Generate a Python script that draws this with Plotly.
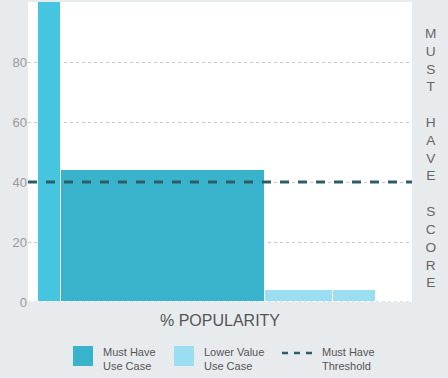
import plotly.graph_objects as go

# ---- data ----
use_cases = ["Use Case A", "Use Case B", "Use Case C", "Use Case D"]
popularity = [6.7, 60.4, 20.1, 12.8]          # % popularity (bar widths)
must_have_score = [100, 44, 4, 4]             # bar heights
category = ["highlight", "Must Have Use Case", "Lower Value Use Case", "Lower Value Use Case"]
threshold = 40
y_ticks = [0, 20, 40, 60, 80]

COL = {"highlight": "#45C5DF", "Must Have Use Case": "#38B3CB", "Lower Value Use Case": "#9BDEF1"}
LINE_COL = "#2C5E66"
FONT = "Liberation Sans"
BG = "#E7EBEE"

# ---- layout geometry (px) ----
W, H = 448, 378
ML, MR, MT, MB = 28, 36, 2, 76
PW, PH = W - ML - MR, H - MT - MB

def px2x(px):
    return (px - ML) / PW

def py2y(py):
    return (H - MB - py) / PH

# bar centres from cumulative widths
lefts = []
acc = 0
for w in popularity:
    lefts.append(acc)
    acc += w
centers = [l + w / 2 for l, w in zip(lefts, popularity)]

fig = go.Figure()
fig.add_trace(go.Bar(
    x=centers, y=must_have_score, width=popularity,
    marker=dict(color=[COL[c] for c in category], line=dict(color="white", width=1)),
    hovertext=use_cases, showlegend=False,
))

fig.add_shape(type="line", xref="paper", x0=0, x1=1, yref="y", y0=threshold, y1=threshold,
              line=dict(color=LINE_COL, width=3, dash="9px,9px"), layer="above")

fig.update_layout(
    width=W, height=H,
    margin=dict(l=ML, r=MR, t=MT, b=MB),
    paper_bgcolor=BG, plot_bgcolor="white",
    bargap=0, showlegend=False,
    font=dict(family=FONT, color="#555"),
    xaxis=dict(range=[-2.96, 110.65], showticklabels=False, showgrid=False,
               zeroline=False, showline=False, fixedrange=True),
    yaxis=dict(range=[0, 100], tickvals=y_ticks, showgrid=True, gridcolor="#C8C8C8",
               griddash="3px,3px", gridwidth=1, zeroline=False, showline=False,
               tickfont=dict(size=13, color="#9A9A9A", family=FONT), ticklabelstandoff=0),
)

# baseline dashed
fig.add_shape(type="line", xref="paper", x0=0, x1=1, yref="y", y0=0, y1=0,
              line=dict(color="#C8C8C8", width=1, dash="3px,3px"), layer="above")

# x-axis title
fig.add_annotation(text="% POPULARITY", xref="paper", yref="paper", x=0.5, y=py2y(320),
                   xanchor="center", yanchor="middle",
                   showarrow=False, font=dict(size=16, color="#555", family=FONT))

# right vertical title
fig.add_annotation(text="M<br>U<br>S<br>T<br> <br>H<br>A<br>V<br>E<br> <br>S<br>C<br>O<br>R<br>E",
                   xref="paper", yref="paper", x=px2x(430), y=py2y(158), showarrow=False,
                   xanchor="center", yanchor="middle",
                   font=dict(size=13.7, color="#666", family=FONT), align="center")

# legend (custom)
legend_items = [
    ("box", COL["Must Have Use Case"], "Must Have<br>Use Case", 73),
    ("box", COL["Lower Value Use Case"], "Lower Value<br>Use Case", 174),
    ("dash", LINE_COL, "Must Have<br>Threshold", 282),
]
for kind, col, label, x0 in legend_items:
    if kind == "box":
        fig.add_shape(type="rect", xref="paper", yref="paper",
                      x0=px2x(x0), x1=px2x(x0 + 20), y0=py2y(366), y1=py2y(346),
                      fillcolor=col, line=dict(width=0))
        tx = x0 + 28
    else:
        fig.add_shape(type="line", xref="paper", yref="paper",
                      x0=px2x(x0), x1=px2x(x0 + 31), y0=py2y(353), y1=py2y(353),
                      line=dict(color=col, width=2.5, dash="6px,6px"))
        tx = x0 + 38
    fig.add_annotation(text=label, xref="paper", yref="paper", x=px2x(tx), y=py2y(358.5),
                       xanchor="left", yanchor="middle", showarrow=False, align="left",
                       font=dict(size=11, color="#555", family=FONT))

fig.write_html(
    "out.html",
    config={"displayModeBar": False},
    post_script="document.body.style.margin='0';document.body.style.padding='0';"
                "document.body.style.background='%s';document.body.style.overflow='hidden';" % BG,
)
